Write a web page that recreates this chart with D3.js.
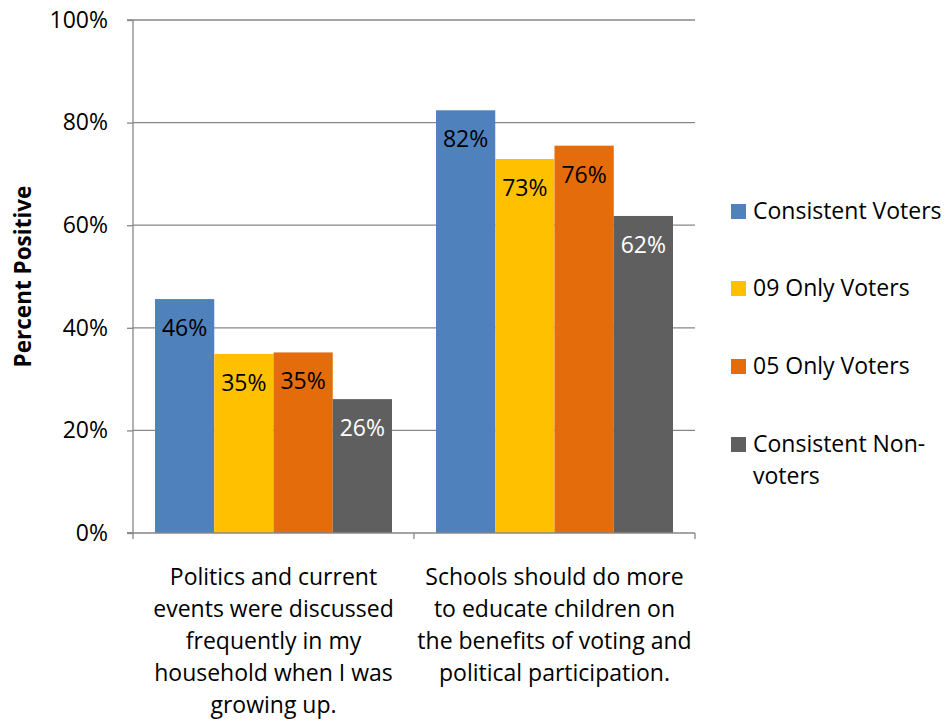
<!DOCTYPE html>
<html>
<head>
<meta charset="utf-8">
<script src="https://cdn.jsdelivr.net/npm/d3@7"></script>
<style>
  html, body { margin: 0; padding: 0; background: #fff; }
  svg { display: block; }
  text { font-family: "Open Sans", sans-serif; }
</style>
</head>
<body>
<svg id="chart" width="945" height="721"></svg>
<script>
const categories = [
  "Politics and current events were discussed frequently in my household when I was growing up.",
  "Schools should do more to educate children on the benefits of voting and political participation."
];
const categoryLines = [
  ["Politics and current", "events were discussed", "frequently in my", "household when I was", "growing up."],
  ["Schools should do more", "to educate children on", "the benefits of voting and", "political participation."]
];
const seriesNames = ["Consistent Voters", "09 Only Voters", "05 Only Voters", "Consistent Non-voters"];
const legendLines = [["Consistent Voters"], ["09 Only Voters"], ["05 Only Voters"], ["Consistent Non-", "voters"]];
const consistentVoters = [0.456, 0.824];
const only09Voters = [0.349, 0.729];
const only05Voters = [0.352, 0.755];
const consistentNonVoters = [0.261, 0.618];
const yTicks = [0, 0.2, 0.4, 0.6, 0.8, 1.0];
const yTitle = "Percent Positive";

const seriesValues = [consistentVoters, only09Voters, only05Voters, consistentNonVoters];
const colors = ["#4F81BD", "#FFC000", "#E46C0A", "#5F5F5F"];
const labelColors = ["#000", "#000", "#000", "#fff"];

(function () {
const svg = d3.select("#chart");
const pLeft = 133, pRight = 695, pTop = 20, pBottom = 533;
const fs = 23;

const y = d3.scaleLinear().domain([0, 1]).range([pBottom, pTop]);
const x0 = d3.scaleBand().domain(categories).range([pLeft, pRight]).padding(0);
const bw = x0.bandwidth();
const x1 = d3.scaleBand().domain(seriesNames).range([22, bw - 22]).padding(0);

// gridlines
svg.append("g").selectAll("line").data(yTicks.filter(d => d > 0)).join("line")
  .attr("x1", pLeft).attr("x2", pRight)
  .attr("y1", d => y(d)).attr("y2", d => y(d))
  .attr("stroke", "#878787").attr("stroke-width", 1.3);

// bars
const table = [];
categories.forEach((c, ci) => seriesNames.forEach((s, si) => table.push({c, s, si, v: seriesValues[si][ci]})));
svg.append("g").selectAll("rect").data(table).join("rect")
  .attr("x", d => x0(d.c) + x1(d.s))
  .attr("width", x1.bandwidth())
  .attr("y", d => y(d.v))
  .attr("height", d => y(0) - y(d.v))
  .attr("fill", d => colors[d.si]);

// data labels
svg.append("g").selectAll("text").data(table).join("text")
  .attr("x", d => x0(d.c) + x1(d.s) + x1.bandwidth() / 2)
  .attr("y", d => y(d.v) + 37)
  .attr("text-anchor", "middle")
  .attr("font-size", fs)
  .attr("fill", d => labelColors[d.si])
  .text(d => d3.format(".0%")(d.v));

// y axis
const yAxis = svg.append("g").attr("transform", `translate(${pLeft},0)`)
  .call(d3.axisLeft(y).tickValues(yTicks).tickFormat(d3.format(".0%")).tickSize(6).tickPadding(19));
yAxis.select(".domain").attr("stroke", "#878787").attr("stroke-width", 1.3).attr("d", `M-6,${pTop}H0V${pBottom}H-6`);
yAxis.selectAll(".tick line").attr("stroke", "#878787").attr("stroke-width", 1.3);
yAxis.selectAll(".tick text").attr("font-size", fs).attr("fill", "#000").attr("font-family", "Open Sans, sans-serif");

// x axis
const xAxis = svg.append("g").attr("transform", `translate(0,${pBottom})`);
xAxis.append("line").attr("x1", pLeft - 6).attr("x2", pRight).attr("y1", 0).attr("y2", 0)
  .attr("stroke", "#878787").attr("stroke-width", 1.3);
const bounds = categories.map(c => x0(c)).concat([pRight]);
xAxis.selectAll("line.tk").data(bounds).join("line").attr("class", "tk")
  .attr("x1", d => d).attr("x2", d => d).attr("y1", 0).attr("y2", 6)
  .attr("stroke", "#878787").attr("stroke-width", 1.3);

// category labels
categories.forEach((c, ci) => {
  const t = svg.append("text").attr("text-anchor", "middle").attr("font-size", fs).attr("fill", "#000");
  categoryLines[ci].forEach((ln, li) => {
    t.append("tspan").attr("x", x0(c) + bw / 2).attr("y", 585 + li * 32).text(ln);
  });
});

// y title
svg.append("text")
  .attr("transform", `translate(31,${(pTop + pBottom) / 2}) rotate(-90)`)
  .attr("text-anchor", "middle").attr("font-size", 22.5).attr("font-weight", "bold")
  .text(yTitle);

// legend
const legendY = [211, 288, 366, 444];
seriesNames.forEach((s, i) => {
  const g = svg.append("g");
  g.append("rect").attr("x", 731).attr("y", legendY[i] - 7).attr("width", 15).attr("height", 15).attr("fill", colors[i]);
  const t = g.append("text").attr("font-size", fs).attr("fill", "#000");
  legendLines[i].forEach((ln, li) => {
    t.append("tspan").attr("x", 753).attr("y", legendY[i] + 8 + li * 32).text(ln);
  });
});
})();
</script>
</body>
</html>
